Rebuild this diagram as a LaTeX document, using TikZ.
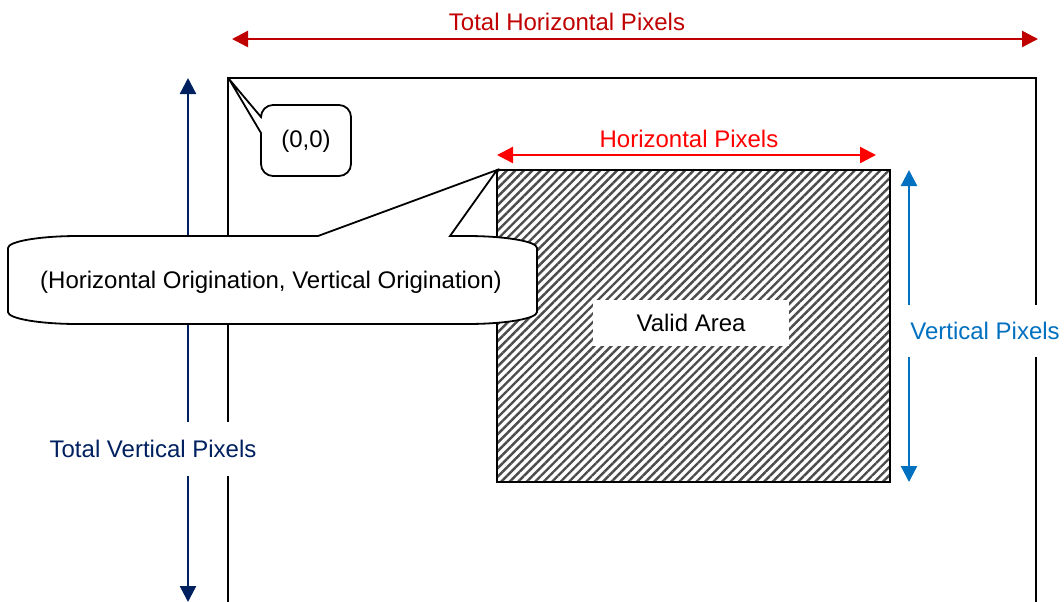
\documentclass[tikz,border=0pt]{standalone}
\usepackage{fontspec}
\setmainfont{Liberation Sans}
\usetikzlibrary{arrows.meta,patterns.meta,positioning}
\definecolor{darkred}{RGB}{192,0,0}
\definecolor{brightred}{RGB}{255,0,0}
\definecolor{navy}{RGB}{0,32,96}
\definecolor{midblue}{RGB}{0,112,192}

\begin{document}
\begin{tikzpicture}[
    x=0.5pt, y=-0.5pt,
    every node/.style={font=\fontsize{12pt}{14pt}\selectfont, inner sep=1pt},
    frame/.style={draw=black, line width=1pt},
    dimarrow/.style={{Triangle[length=8pt,width=8pt]}-{Triangle[length=8pt,width=8pt]}, line width=1.2pt},
    callout/.style={draw=black, fill=white, line width=0.9pt},
    hatch/.style={draw=black, line width=0.9pt, pattern={Lines[angle=45,distance=3pt,line width=1.2pt]}, pattern color=black!70},
    gap label/.style={fill=white, inner sep=2pt},
  ]
  \useasboundingbox (0,0) rectangle (1064,601);
  % OUTER: whole frame
  \draw[frame] (228,640) -- (228,78) -- (1036,78) -- (1036,640);
  \coordinate (tv-top) at (188,78);
  \coordinate (tv-bot) at (188,602);
  \draw[dimarrow, navy] (tv-top) -- (tv-bot);
  % INNER: valid area
  \draw[hatch] (497,170) rectangle (890,482);
  \node[fill=white, minimum width=98pt, minimum height=23pt] (valid) at (691,323) {Valid Area};
  % CALLOUTS
  \draw[callout] (8,248) .. controls (8,241.4) and (39.5,236) .. (78,236) -- (318,236) -- (497,170)
    -- (450,236) -- (467,236) .. controls (505.5,236) and (537,241.4) .. (537,248) -- (537,312)
    .. controls (537,318.6) and (505.5,324) .. (467,324) -- (78,324)
    .. controls (39.5,324) and (8,318.6) .. (8,312) -- cycle;
  \node (start) at (271,282) {(Horizontal Origination, Vertical Origination)};
  \draw[callout] (261,133) -- (229,79) -- (261,117) .. controls (261,110.4) and (266.4,105) .. (273,105)
    -- (339,105) .. controls (345.6,105) and (351,110.4) .. (351,117) -- (351,164)
    .. controls (351,170.6) and (345.6,176) .. (339,176) -- (273,176)
    .. controls (266.4,176) and (261,170.6) .. (261,164) -- cycle;
  \node (zero) at (306,141) {(0,0)};
  % HORIZONTAL dimensions
  \coordinate (th-l) at (232,39);
  \coordinate (th-r) at (1038,39);
  \draw[dimarrow, darkred] (th-l) -- (th-r);
  \node[text=darkred] (totalh) at (567,22) {Total Horizontal Pixels};
  \coordinate (h-l) at (497,155);
  \coordinate (h-r) at (876,155);
  \draw[dimarrow, brightred] (h-l) -- (h-r);
  \node[text=brightred] (horiz) at (689,139) {Horizontal Pixels};
  % VERTICAL dimensions
  \coordinate (v-top) at (909,170);
  \coordinate (v-bot) at (909,482);
  \draw[dimarrow, midblue] (v-top) -- (v-bot);
  \node[gap label, text=midblue, minimum height=26pt] (vert) at (985,331) {Vertical Pixels};
  \node[gap label, text=navy, minimum height=27pt] (totalv) at (153,449) {Total Vertical Pixels};
\end{tikzpicture}
\end{document}
